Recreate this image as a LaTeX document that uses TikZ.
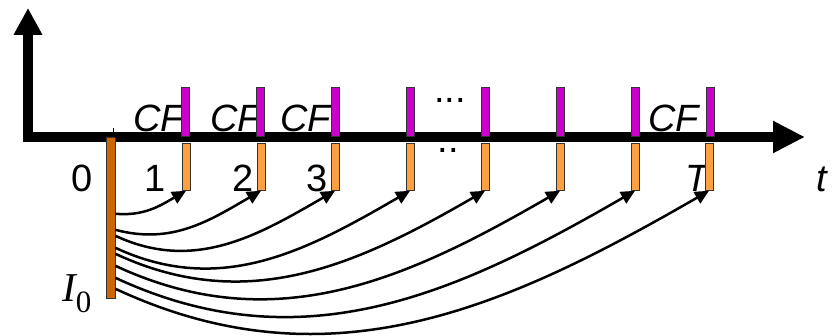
\documentclass[tikz,border=0pt]{standalone}
\usepackage{fontspec}
\setmainfont{Liberation Sans}
\newfontfamily\ifont{Liberation Serif}
\usetikzlibrary{arrows.meta}
\definecolor{cfpurple}{HTML}{CC00CC}
\definecolor{cforange}{HTML}{FFA040}
\definecolor{invbrown}{HTML}{CC6600}
\newcommand{\bnode}[3]{\node [#2] (#1) at (#3) {}}
\tikzset{
  bar/.style={draw=black!80, line width=0.8pt, inner sep=0pt, minimum width=8pt},
  pbar/.style={bar, fill=cfpurple, minimum height=49pt, anchor=south},
  obar/.style={bar, fill=cforange, minimum height=47pt, anchor=north},
  lbl/.style={font=\fontsize{38}{40}\selectfont, inner sep=0pt, anchor=base},
  cflbl/.style={font=\fontsize{38}{40}\selectfont\itshape, inner sep=0pt, anchor=base west},
  flow/.style={line width=2.5pt, -{Triangle[length=14pt,width=13pt]}}
}

\begin{document}
\begin{tikzpicture}[x=1pt,y=1pt]
\useasboundingbox (0,0) rectangle (833,336);

% axes
\coordinate (ytip) at (28,328);
\coordinate (corner) at (28,199);
\coordinate (xtip) at (805,199);
\draw[line width=10pt, {Triangle[length=27pt,width=27pt]}-{Triangle[length=32pt,width=30pt]}]
  (ytip) -- (corner) -- (xtip);
\draw[line width=1pt] (113,203) -- (113,208);

% labels
\node[lbl] (n0) at (82.5,144) {0};
\node[lbl] (n1) at (155,144) {1};
\node[lbl] (n2) at (243,144) {2};
\node[lbl] (n3) at (317,144) {3};
\node[lbl, font=\fontsize{38}{40}\selectfont\itshape] (nT) at (697,144) {T};
\node[lbl, font=\fontsize{38}{40}\selectfont\itshape] (nt) at (822,144) {t};
\node[cflbl] (cf1) at (133,204) {CF};
\node[cflbl] (cf2) at (210,204) {CF};
\node[cflbl] (cf3) at (280,204) {CF};
\node[cflbl] (cfT) at (648,204) {CF};
\node[lbl] (dotsup) at (450,233) {...};
\node[lbl] (dotsdn) at (448,183) {..};
\node[inner sep=0pt, anchor=base west, font=\ifont] (I0) at (62,34)
  {\fontsize{41}{44}\selectfont\itshape I\raisebox{-11pt}{\fontsize{31}{33}\selectfont\upshape 0}};

% investment
\bnode{inv}{bar, fill=invbrown, minimum width=9pt, minimum height=161pt, anchor=north}{110.5,199};

% cash flows
\bnode{p1}{pbar}{185,199};
\bnode{p2}{pbar}{260,199};
\bnode{p3}{pbar}{335,199};
\bnode{p4}{pbar}{410,199};
\bnode{p5}{pbar}{485,199};
\bnode{p6}{pbar}{560,199};
\bnode{p7}{pbar}{635,199};
\bnode{p8}{pbar}{710,199};

\bnode{o1}{obar}{186,193};
\bnode{o2}{obar}{261,193};
\bnode{o3}{obar}{335,193};
\bnode{o4}{obar}{410,193};
\bnode{o5}{obar}{485,193};
\bnode{o6}{obar}{560,193};
\bnode{o7}{obar}{635,193};
\bnode{o8}{obar}{709,193};

% discounting
\draw[flow] ([yshift=85pt]inv.south east) to[out=-5,in=210] (o1.south);
\draw[flow] ([yshift=69pt]inv.south east) to[out=-15,in=210] (o2.south);
\draw[flow] ([yshift=63pt]inv.south east) to[out=-25,in=210] (o3.south);
\draw[flow] ([yshift=51pt]inv.south east) to[out=-25,in=210] (o4.south);
\draw[flow] ([yshift=45pt]inv.south east) to[out=-25,in=210] (o5.south);
\draw[flow] ([yshift=33pt]inv.south east) to[out=-25,in=210] (o6.south);
\draw[flow] ([yshift=21pt]inv.south east) to[out=-25,in=210] (o7.south);
\draw[flow] ([yshift=10pt]inv.south east) to[out=-25,in=210] (o8.south);

\end{tikzpicture}
\end{document}
